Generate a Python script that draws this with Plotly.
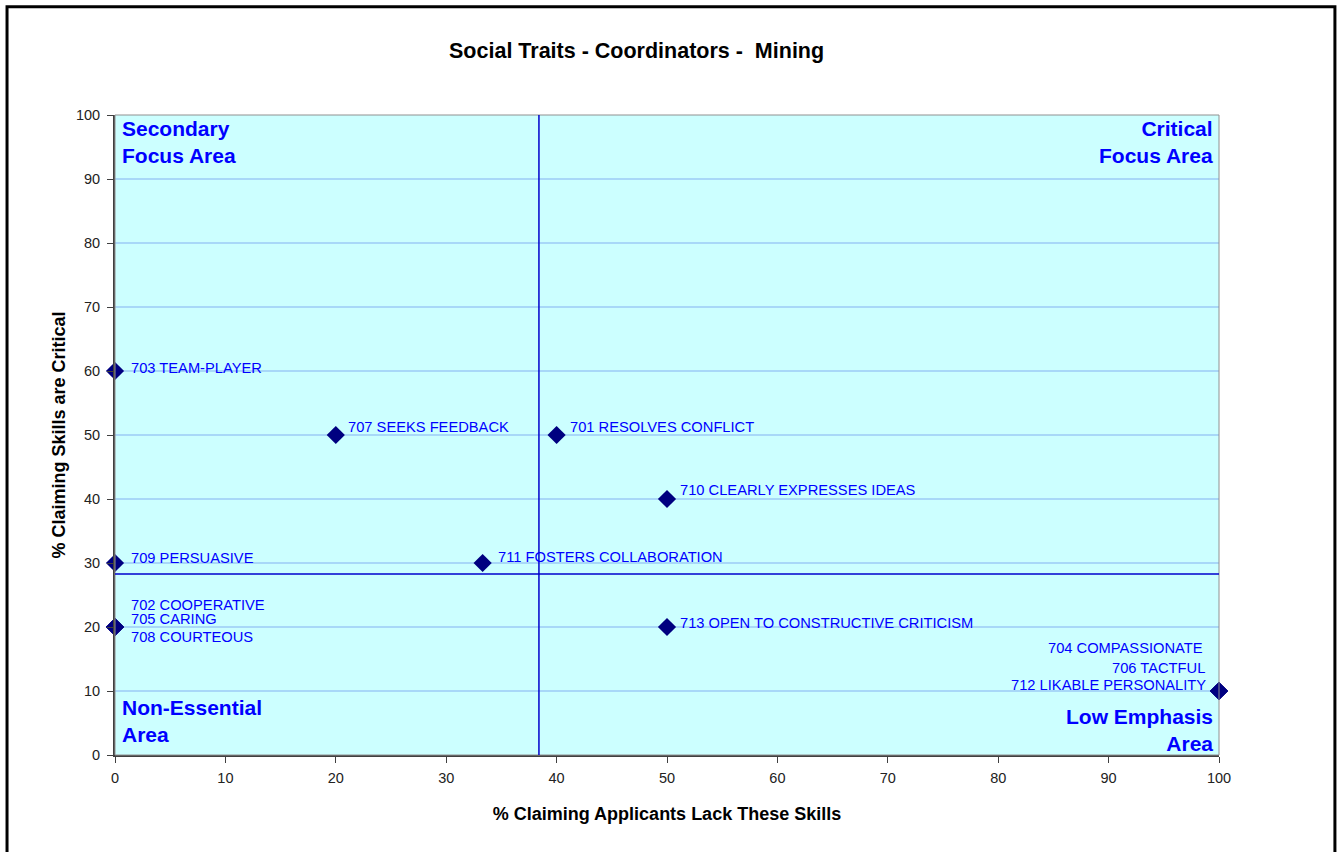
import plotly.graph_objects as go

# ---- data ----
skills = [
    "703 TEAM-PLAYER", "707 SEEKS FEEDBACK", "701 RESOLVES CONFLICT",
    "710 CLEARLY EXPRESSES IDEAS", "709 PERSUASIVE", "711 FOSTERS COLLABORATION",
    "702 COOPERATIVE", "705 CARING", "708 COURTEOUS",
    "713 OPEN TO CONSTRUCTIVE CRITICISM",
    "704 COMPASSIONATE", "706 TACTFUL", "712 LIKABLE PERSONALITY",
]
lack_pct = [0, 20, 40, 50, 0, 33.3, 0, 0, 0, 50, 100, 100, 100]
critical_pct = [60, 50, 50, 40, 30, 30, 20, 20, 20, 20, 10, 10, 10]
avg_lack = 38.4
avg_critical = 28.3

x_ticks = [0, 10, 20, 30, 40, 50, 60, 70, 80, 90, 100]
y_ticks = [0, 10, 20, 30, 40, 50, 60, 70, 80, 90, 100]

# ---- label styling (pixel offsets) ----
label_dx = [14, 10, 11, 11, 14, 13, 14, 14, 14, 11, -14, -12, -11]
label_dy = [3, 8, 8, 9, 5, 6, 22, 8, -10, 4, 43, 23, 6]

FONT = "Liberation Sans, Arial, sans-serif"
BLUE = "#0000FF"

fig = go.Figure()
fig.add_trace(go.Scatter(
    x=lack_pct, y=critical_pct, mode="markers",
    marker=dict(symbol="diamond", size=14, color="#000080"),
    cliponaxis=False,
    showlegend=False, hoverinfo="text", text=skills,
))

annotations = []
for name, x, y, dx, dy in zip(skills, lack_pct, critical_pct, label_dx, label_dy):
    annotations.append(dict(
        x=x, y=y, xref="x", yref="y", text=name, showarrow=False,
        xanchor="left" if dx > 0 else "right", yanchor="middle",
        xshift=dx, yshift=dy,
        font=dict(family=FONT, size=14.7, color=BLUE),
    ))

qfont = dict(family=FONT, size=21, color=BLUE)
annotations += [
    dict(x=0, y=1, xref="paper", yref="paper", text="<b>Secondary<br>Focus Area</b>",
         showarrow=False, xanchor="left", yanchor="top", align="left",
         xshift=5, yshift=0, font=qfont),
    dict(x=1, y=1, xref="paper", yref="paper", text="<b>Critical<br>Focus Area</b>",
         showarrow=False, xanchor="right", yanchor="top", align="right",
         xshift=-4, yshift=0, font=qfont),
    dict(x=0, y=0, xref="paper", yref="paper", text="<b>Non-Essential<br>Area</b>",
         showarrow=False, xanchor="left", yanchor="bottom", align="left",
         xshift=5, yshift=7, font=qfont),
    dict(x=1, y=0, xref="paper", yref="paper", text="<b>Low Emphasis<br>Area</b>",
         showarrow=False, xanchor="right", yanchor="bottom", align="right",
         xshift=-4, yshift=-2, font=qfont),
]

shapes = [
    # plot-area outline (light gray top/right)
    dict(type="rect", xref="paper", yref="paper", x0=0, x1=1, y0=0, y1=1,
         line=dict(color="#909090", width=1), layer="above"),
    # reference lines
    dict(type="line", xref="x", yref="y", x0=avg_lack, x1=avg_lack, y0=0, y1=100,
         line=dict(color="#0000CC", width=1.5)),
    dict(type="line", xref="x", yref="y", x0=0, x1=100, y0=avg_critical, y1=avg_critical,
         line=dict(color="#0000CC", width=1.5)),
    # outer chart frame
    dict(type="rect", xref="paper", yref="paper",
         x0=-0.0978, x1=1.105, y0=-0.17, y1=1.169,
         line=dict(color="black", width=3), layer="above"),
]

fig.update_layout(
    width=1343, height=852,
    margin=dict(l=115, r=124, t=115, b=97),
    paper_bgcolor="white", plot_bgcolor="#CCFFFF",
    font=dict(family=FONT, color="#222222"),
    title=dict(text="<b>Social Traits - Coordinators -  Mining</b>",
               x=0.474, xanchor="center", y=1 - 50 / 852, yanchor="middle",
               font=dict(family=FONT, size=21.5, color="black")),
    xaxis=dict(
        range=[0, 100], tickvals=x_ticks, ticktext=[str(v) for v in x_ticks],
        showgrid=False, zeroline=False,
        showline=True, linecolor="#404040", linewidth=2,
        ticks="outside", ticklen=6, tickcolor="#404040", tickwidth=1,
        ticklabelstandoff=3,
        tickfont=dict(family=FONT, size=14.5, color="#222222"),
        title=dict(text="<b>% Claiming Applicants Lack These Skills</b>",
                   font=dict(family=FONT, size=18, color="black"), standoff=22),
    ),
    yaxis=dict(
        range=[0, 100], tickvals=y_ticks, ticktext=[str(v) for v in y_ticks],
        showgrid=True, gridcolor="#A8D8F8", gridwidth=1.5, zeroline=False,
        showline=True, linecolor="#404040", linewidth=2,
        ticks="outside", ticklen=6, tickcolor="#404040", tickwidth=1,
        ticklabelstandoff=4,
        tickfont=dict(family=FONT, size=14.5, color="#222222"),
        title=dict(text="<b>% Claiming Skills are Critical</b>",
                   font=dict(family=FONT, size=18, color="black"), standoff=6),
    ),
    annotations=annotations,
    shapes=shapes,
)

fig.write_html("out.html", config={"displayModeBar": False},
               post_script="document.body.style.margin='0';document.body.style.overflow='hidden';")
